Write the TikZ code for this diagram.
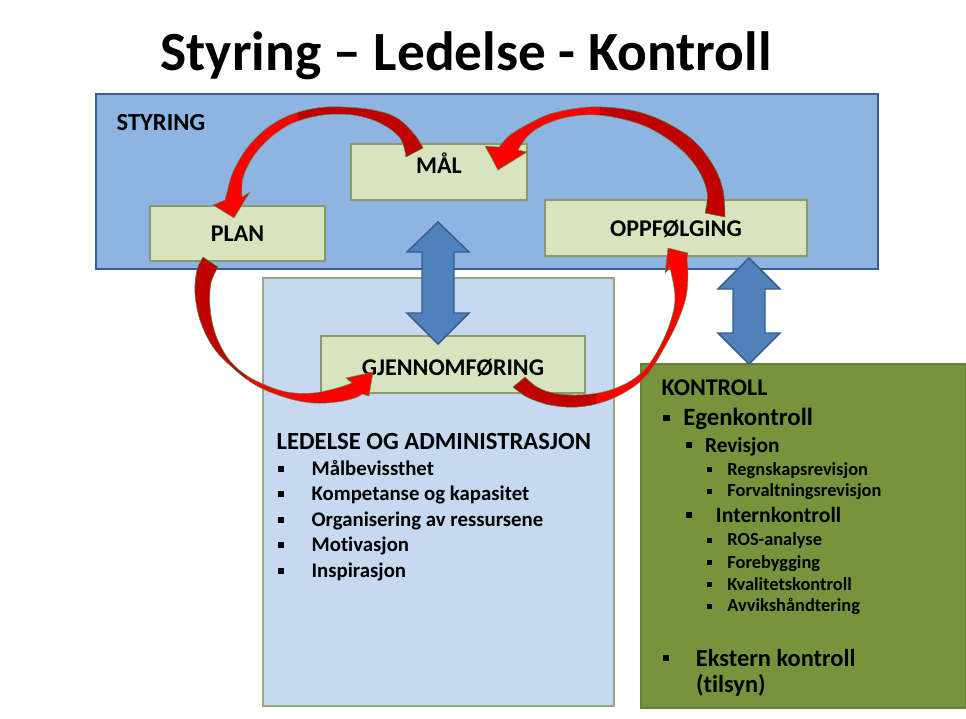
\documentclass[tikz,border=0pt]{standalone}
\usepackage{fontspec}
\setmainfont{Carlito}[Ligatures={NoCommon}]
\definecolor{styFill}{HTML}{8EB4E3}
\definecolor{styDraw}{HTML}{3A5F8B}
\definecolor{boxFill}{HTML}{D7E4BD}
\definecolor{boxDraw}{HTML}{879C69}
\definecolor{ledFill}{HTML}{C6D9F1}
\definecolor{ledDraw}{HTML}{98A882}
\definecolor{konFill}{HTML}{77933C}
\definecolor{konDraw}{HTML}{66803A}
\definecolor{blueFill}{HTML}{4F81BD}
\definecolor{blueDraw}{HTML}{385D8A}
\definecolor{redA}{HTML}{FF0000}
\definecolor{redB}{HTML}{C00000}
\definecolor{edgeGreen}{HTML}{3DA55D}
\newcommand\fs[1]{\fontsize{#1}{#1}\selectfont}
\newcommand\sq[3]{\makebox[#1][l]{\rule[#2]{#3}{#3}}}
% red curved arrows (pixel coordinates)
\def\arrA{plot[smooth,tension=0.6] coordinates {(423,148) (415,135) (397,118) (373,110) (343,107) (317,108) (290,115) (267,128) (247,148) (233,172) (227,192) (225,200)} -- (213,205) -- (234,218) -- (250,192) -- plot[smooth,tension=0.6] coordinates {(242,197) (243,178) (253,157) (270,138) (293,123) (323,115) (353,115) (380,123) (400,138) (406,157)} -- cycle}
\def\arrB{plot[smooth,tension=0.6] coordinates {(499,147) (510,135) (530,123) (553,113) (590,107) (630,110) (663,121) (693,140) (713,165) (723,190) (725,217)} -- plot[smooth,tension=0.6] coordinates {(705,213) (707,192) (697,168) (677,146) (647,127) (613,117) (585,115) (560,119) (540,127) (527,137) (518,150)} -- (527,152) -- (498,170) -- (485,146) -- cycle}
\def\arrC{plot[smooth,tension=0.6] coordinates {(203,257) (197,270) (195,293) (200,320) (213,347) (233,368) (257,386) (287,398) (313,403) (337,402) (355,398) (362,394)} -- (369,396) -- (373,372) -- (346,378) -- plot[smooth,tension=0.6] coordinates {(352,383) (337,388) (313,393) (287,392) (263,384) (243,373) (227,357) (215,333) (210,307) (211,283) (218,267)} -- cycle}
\def\arrD{plot[smooth,tension=0.6] coordinates {(513,387) (527,397) (550,405) (577,407) (603,402) (627,391) (647,375) (663,350) (677,323) (686,297) (688,273) (687,260)} -- (688,253) -- (668,248) -- (665,273) -- plot[smooth,tension=0.6] coordinates {(670,268) (675,297) (670,323) (658,350) (644,370) (627,383) (603,392) (577,395) (553,393) (537,387) (525,377)} -- cycle}
\begin{document}
\begin{tikzpicture}[x=0.75pt,y=-0.75pt,
  every node/.style={inner sep=0pt, outer sep=0pt, font=\bfseries},
  bigbox/.style={rectangle, draw=styDraw, fill=styFill, line width=1.9pt},
  ledbox/.style={rectangle, draw=ledDraw, fill=ledFill, line width=0.9pt},
  konbox/.style={rectangle, draw=konDraw, fill=konFill, line width=0.9pt},
  stepbox/.style={rectangle, draw=boxDraw, fill=boxFill, line width=0.8pt, font=\bfseries\fs{18}, text depth=0pt, text height=#1},
  txt/.style={anchor=base west, font=\bfseries\fs{#1}},
  bluearrow/.style={fill=blueFill, draw=blueDraw, line width=1.1pt, line join=miter},
  redlight/.style={fill=redA},
  reddark/.style={fill=redB},
  rededge/.style={draw=edgeGreen, line width=0.35pt}
]
\useasboundingbox (0,0) rectangle (966,718);

% title
\node[anchor=base, font=\bfseries\fs{41.5}] (title) at (466,70) {Styring – Ledelse - Kontroll};

% big boxes
\node[bigbox, minimum width=586.5pt, minimum height=131.25pt] (styring) at (487,181.5) {};
\node[ledbox, minimum width=263.25pt, minimum height=321pt] (ledelse) at (438.5,492) {};
\node[konbox, minimum width=243.75pt, minimum height=258pt] (kontroll) at (803.5,536) {};

% step boxes
\node[stepbox=2pt, minimum width=132pt, minimum height=42pt] (maal) at (439,172) {MÅL};
\node[stepbox=12.3pt, minimum width=131.25pt, minimum height=41.25pt] (plan) at (237.5,233.5) {PLAN};
\node[stepbox=13pt, minimum width=196.5pt, minimum height=42pt] (oppf) at (676,228) {OPPFØLGING};
\node[stepbox=16.8pt, minimum width=198pt, minimum height=42.75pt] (gjen) at (453,364.5) {GJENNOMFØRING};

% blue double arrows
\draw[bluearrow] (438,222) -- (469,252) -- (454,252) -- (454,313) -- (469,313) -- (438,344) -- (407,313) -- (422,313) -- (422,252) -- (407,252) -- cycle;
\draw[bluearrow] (749,258) -- (780,289) -- (765,289) -- (765,333) -- (780,333) -- (749,364) -- (718,333) -- (733,333) -- (733,289) -- (718,289) -- cycle;

% red curved arrows
\fill[redlight] \arrA;
\begin{scope}\clip (298,90) rectangle (440,175); \fill[reddark] \arrA; \end{scope}
\draw[rededge] \arrA;
\fill[redlight] \arrB;
\begin{scope}\clip (600,95) rectangle (740,230); \fill[reddark] \arrB; \end{scope}
\draw[rededge] \arrB;
\fill[redlight] \arrC;
\begin{scope}\clip (180,245) rectangle (247,380); \fill[reddark] \arrC; \end{scope}
\draw[rededge] \arrC;
\fill[redlight] \arrD;
\begin{scope}\clip (500,365) rectangle (596,415); \fill[reddark] \arrD; \end{scope}
\draw[rededge] \arrD;

% labels
\node[txt=18.4] (styT) at (116.7,130) {STYRING};

\node[txt=18.5] (ledH) at (276.7,449) {LEDELSE OG ADMINISTRASJON};
\node[txt=15.6] (led1) at (278.3,475) {\sq{25pt}{2.6pt}{4.5pt}Målbevissthet};
\node[txt=15.6] (led2) at (278.3,500.5) {\sq{25pt}{2.6pt}{4.5pt}Kompetanse og kapasitet};
\node[txt=15.6] (led3) at (278.3,526) {\sq{25pt}{2.6pt}{4.5pt}Organisering av ressursene};
\node[txt=15.6] (led4) at (278.3,551.5) {\sq{25pt}{2.6pt}{4.5pt}Motivasjon};
\node[txt=15.6] (led5) at (278.3,577) {\sq{25pt}{2.6pt}{4.5pt}Inspirasjon};

\node[txt=18] (konT) at (661.7,395.7) {KONTROLL};
\node[txt=18.6] (k1) at (663.3,425) {\sq{15pt}{2.8pt}{4.9pt}Egenkontroll};
\node[txt=16] (k2) at (685.7,452.3) {\sq{14.5pt}{3.4pt}{4.5pt}Revisjon};
\node[txt=13.8] (k3) at (706.7,475) {\sq{15.5pt}{2.2pt}{3.75pt}Regnskapsrevisjon};
\node[txt=13.8] (k4) at (706.7,496.7) {\sq{15.5pt}{2.2pt}{3.75pt}Forvaltningsrevisjon};
\node[txt=16.3] (k5) at (685.7,522.3) {\sq{22.7pt}{3.4pt}{4.5pt}Internkontroll};
\node[txt=13.8] (k6) at (706.7,545.7) {\sq{15.5pt}{2.2pt}{3.75pt}ROS-analyse};
\node[txt=13.8] (k7) at (706.7,568.3) {\sq{15.5pt}{2.2pt}{3.75pt}Forebygging};
\node[txt=13.8] (k8) at (706.7,590) {\sq{15.5pt}{2.2pt}{3.75pt}Kvalitetskontroll};
\node[txt=13.8] (k9) at (706.7,611.7) {\sq{15.5pt}{2.2pt}{3.75pt}Avvikshåndtering};
\node[txt=18.3] (k10) at (663.3,666.7) {\sq{24.5pt}{4.2pt}{4.5pt}Ekstern kontroll};
\node[txt=18.3] (k11) at (696,692) {(tilsyn)};
\end{tikzpicture}
\end{document}
